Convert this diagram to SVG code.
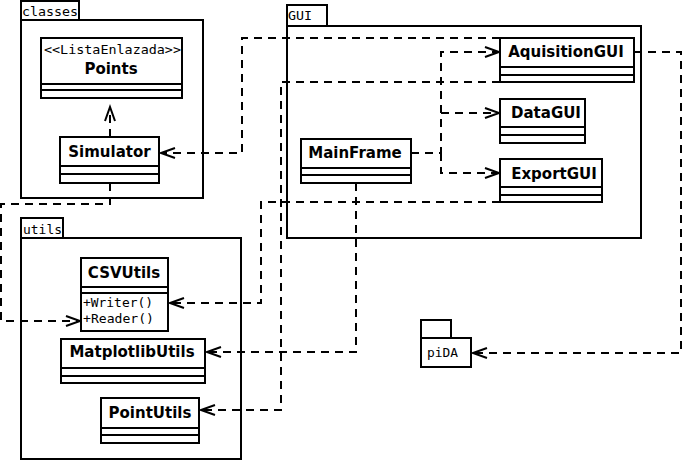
<svg xmlns="http://www.w3.org/2000/svg" width="683" height="460" viewBox="0 0 683 460">
<style>
.pkg{fill:#fff;stroke:#000;stroke-width:2}
.box{fill:#fff;stroke:#000;stroke-width:2}
.ln{stroke:#000;stroke-width:2;fill:none}
.dep{stroke:#000;stroke-width:2;fill:none;stroke-dasharray:8,6;marker-end:url(#arr)}
.nm{font-family:"DejaVu Sans",sans-serif;font-weight:bold;font-size:15px;text-anchor:middle;fill:#000}
.mono{font-family:"DejaVu Sans Mono",monospace;font-size:12px;fill:#000}
</style>
<defs>
<marker id="arr" markerUnits="userSpaceOnUse" markerWidth="16" markerHeight="12" viewBox="0 0 16 12" refX="15" refY="6" orient="auto" overflow="visible">
<path d="M1,1 L15,6 L1,11" fill="none" stroke="#000" stroke-width="2"/>
</marker>
</defs>
<g id="pkg-classes">
<rect class="pkg" x="21" y="1" width="58" height="19"/>
<rect class="pkg" x="21" y="20" width="182" height="178"/>
<text class="mono" x="22" y="16" textLength="56" lengthAdjust="spacingAndGlyphs">classes</text>
</g>
<g id="pkg-GUI">
<rect class="pkg" x="287" y="5" width="40" height="21"/>
<rect class="pkg" x="287" y="26" width="354" height="212"/>
<text class="mono" x="288" y="20" textLength="24" lengthAdjust="spacingAndGlyphs">GUI</text>
</g>
<g id="pkg-utils">
<rect class="pkg" x="21" y="218" width="42" height="20"/>
<rect class="pkg" x="21" y="238" width="220" height="221"/>
<text class="mono" x="23" y="234" textLength="39" lengthAdjust="spacingAndGlyphs">utils</text>
</g>
<g id="pkg-piDA">
<rect class="pkg" x="421" y="320" width="30" height="18"/>
<rect class="pkg" x="421" y="338" width="50" height="29"/>
<text class="mono" x="427" y="357" textLength="31" lengthAdjust="spacingAndGlyphs">piDA</text>
</g>
<g id="connectors">
<path class="dep" d="M110,137 V107"/>
<path class="dep" d="M110,183 V204 H1 V321 H80"/>
<path class="dep" d="M500,38 H242 V153 H161"/>
<path class="dep" d="M500,82 H281 V410 H201"/>
<path class="dep" d="M500,202 H261 V303 H170"/>
<path class="dep" d="M356,183 V352 H207"/>
<path class="dep" d="M634,52 H681 V353 H473"/>
<path class="dep" d="M411,153 H441 V52 H499"/>
<path class="dep" d="M441,113 H499"/>
<path class="dep" d="M441,153 V173 H499"/>
</g>
<g id="Points">
<rect class="box" x="41" y="38" width="141" height="60"/>
<path class="ln" d="M41,84 H182 M41,90 H182"/>
<text class="mono" x="44" y="54" textLength="137" lengthAdjust="spacingAndGlyphs">&lt;&lt;ListaEnlazada&gt;&gt;</text>
<text class="nm" x="111" y="74">Points</text>
</g>
<g id="Simulator">
<rect class="box" x="60" y="137" width="99" height="46"/>
<path class="ln" d="M60,166 H159 M60,174 H159"/>
<text class="nm" x="109.5" y="157">Simulator</text>
</g>
<g id="MainFrame">
<rect class="box" x="301" y="139" width="110" height="44"/>
<path class="ln" d="M301,168 H411 M301,175 H411"/>
<text class="nm" x="355" y="158">MainFrame</text>
</g>
<g id="AquisitionGUI">
<rect class="box" x="500" y="38" width="134" height="44"/>
<path class="ln" d="M500,67 H634 M500,75 H634"/>
<text class="nm" x="566" y="57">AquisitionGUI</text>
</g>
<g id="DataGUI">
<rect class="box" x="500" y="99" width="85" height="44"/>
<path class="ln" d="M500,127 H585 M500,135 H585"/>
<text class="nm" x="546" y="118">DataGUI</text>
</g>
<g id="ExportGUI">
<rect class="box" x="500" y="159" width="102" height="43"/>
<path class="ln" d="M500,187 H602 M500,195 H602"/>
<text class="nm" x="554" y="179">ExportGUI</text>
</g>
<g id="CSVUtils">
<rect class="box" x="81" y="258" width="87" height="73"/>
<path class="ln" d="M81,287 H168 M81,293 H168"/>
<text class="nm" x="124" y="278">CSVUtils</text>
<text class="mono" x="83" y="307" textLength="70" lengthAdjust="spacingAndGlyphs">+Writer()</text>
<text class="mono" x="83" y="323" textLength="71" lengthAdjust="spacingAndGlyphs">+Reader()</text>
</g>
<g id="MatplotlibUtils">
<rect class="box" x="61" y="339" width="144" height="44"/>
<path class="ln" d="M61,368 H205 M61,376 H205"/>
<text class="nm" x="132" y="357">MatplotlibUtils</text>
</g>
<g id="PointUtils">
<rect class="box" x="101" y="398" width="98" height="45"/>
<path class="ln" d="M101,428 H199 M101,435 H199"/>
<text class="nm" x="150" y="418">PointUtils</text>
</g>
</svg>
